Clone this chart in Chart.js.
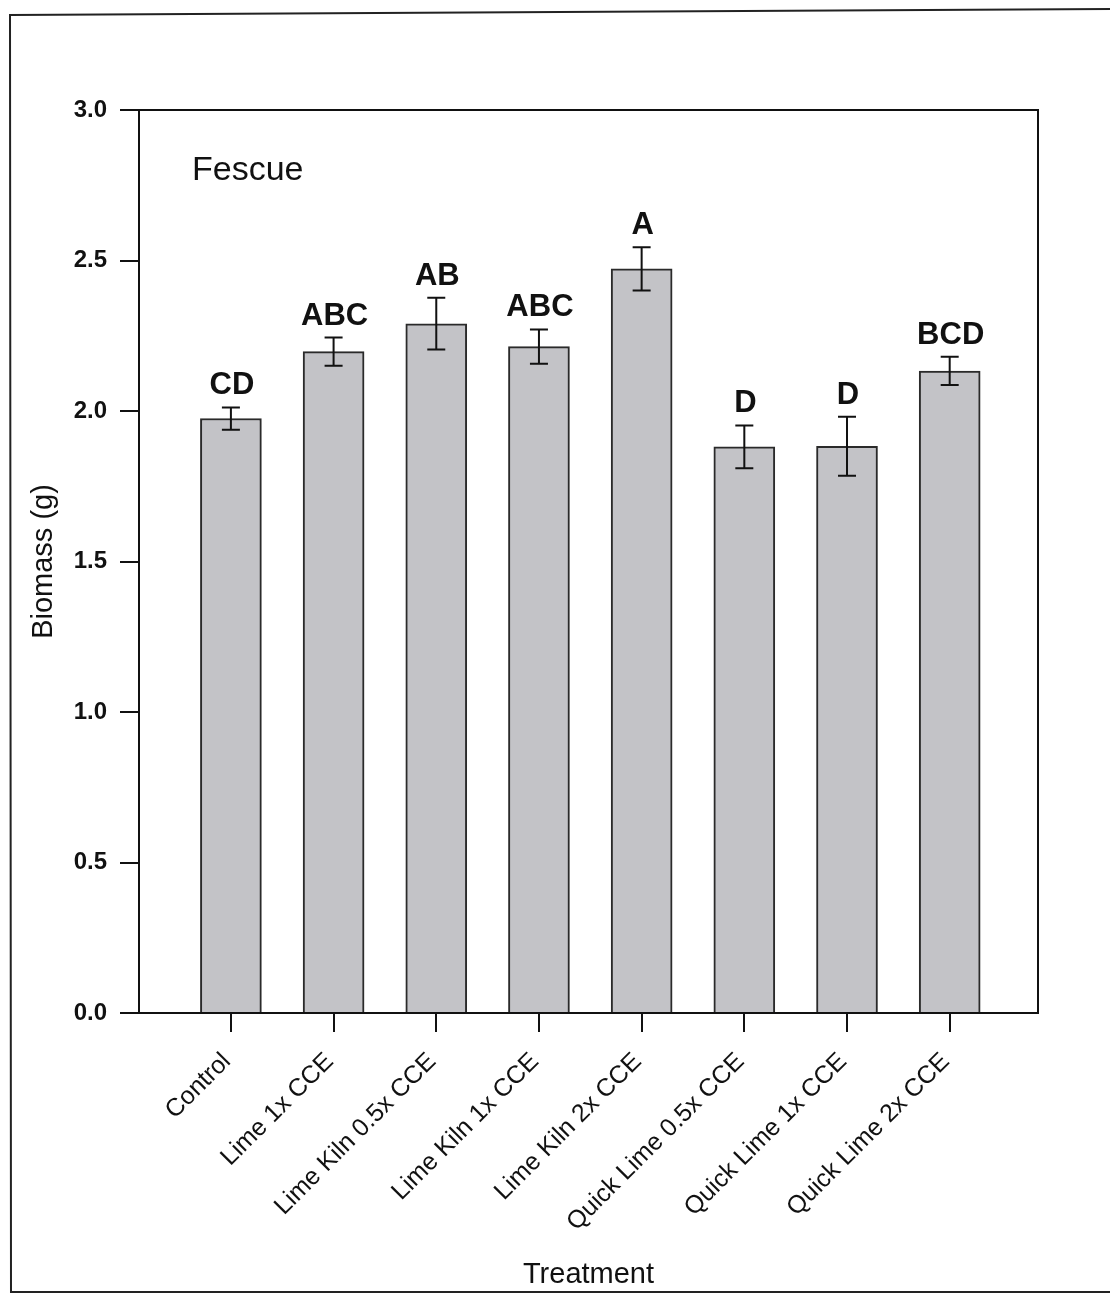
<!DOCTYPE html>
<html>
<head>
<meta charset="utf-8">
<script src="https://cdn.jsdelivr.net/npm/chart.js@4.4.1/dist/chart.umd.min.js"></script>
<style>
html,body{margin:0;padding:0;background:#fff;}
#wrap{position:relative;width:1110px;height:1294px;}
</style>
</head>
<body>
<div id="wrap"><canvas id="c" width="1110" height="1294"></canvas></div>
<script>
const categories = ['Control','Lime 1x CCE','Lime Kiln 0.5x CCE','Lime Kiln 1x CCE','Lime Kiln 2x CCE','Quick Lime 0.5x CCE','Quick Lime 1x CCE','Quick Lime 2x CCE'];
const biomass = [1.975, 2.197, 2.290, 2.214, 2.472, 1.881, 1.883, 2.133];
const stdErr = [0.037, 0.047, 0.086, 0.057, 0.072, 0.071, 0.098, 0.047];
const groupLetters = ['CD','ABC','AB','ABC','A','D','D','BCD'];
const yTicks = [0, 0.5, 1.0, 1.5, 2.0, 2.5, 3.0];
const panelLabel = 'Fescue';
const xTitle = 'Treatment';
const yTitle = 'Biomass (g)';

const FONT = "'Liberation Sans', Arial, Helvetica, sans-serif";
const INK = '#111';

const decorPlugin = {
  id: 'decor',
  afterDatasetsDraw(chart) {
    const ctx = chart.ctx;
    const xs = chart.scales.x, ys = chart.scales.y;
    const a = chart.chartArea;
    ctx.save();
    // error bars
    ctx.strokeStyle = INK;
    ctx.lineWidth = 2;
    biomass.forEach((v, i) => {
      const x = xs.getPixelForValue(i);
      const yt = ys.getPixelForValue(v + stdErr[i]);
      const yb = ys.getPixelForValue(v - stdErr[i]);
      ctx.beginPath();
      ctx.moveTo(x, yt); ctx.lineTo(x, yb);
      ctx.moveTo(x - 9, yt); ctx.lineTo(x + 9, yt);
      ctx.moveTo(x - 9, yb); ctx.lineTo(x + 9, yb);
      ctx.stroke();
    });
    // letters
    ctx.fillStyle = INK;
    ctx.font = 'bold 31px ' + FONT;
    ctx.textAlign = 'center';
    ctx.textBaseline = 'alphabetic';
    groupLetters.forEach((t, i) => {
      const x = xs.getPixelForValue(i);
      const yt = ys.getPixelForValue(biomass[i] + stdErr[i]);
      ctx.fillText(t, x + 1, yt - 13);
    });
    // plot box top & right
    ctx.lineWidth = 2;
    ctx.strokeStyle = INK;
    ctx.beginPath();
    ctx.moveTo(a.left, a.top); ctx.lineTo(a.right, a.top); ctx.lineTo(a.right, a.bottom);
    ctx.stroke();
    // panel label
    ctx.font = '34px ' + FONT;
    ctx.textAlign = 'left';
    ctx.fillText(panelLabel, 192, 180);
    // axis titles
    ctx.font = '29px ' + FONT;
    ctx.textAlign = 'center';
    ctx.fillText(xTitle, (a.left + a.right) / 2, 1283);
    ctx.save();
    ctx.translate(52, (a.top + a.bottom) / 2);
    ctx.rotate(-Math.PI / 2);
    ctx.fillText(yTitle, 0, 0);
    ctx.restore();
    // outer frame
    ctx.lineWidth = 2;
    ctx.strokeStyle = '#222';
    ctx.beginPath();
    ctx.moveTo(1112, 9); ctx.lineTo(10, 15); ctx.lineTo(11, 1292); ctx.lineTo(1112, 1292);
    ctx.stroke();
    ctx.restore();
  }
};

new Chart(document.getElementById('c'), {
  type: 'bar',
  data: {
    datasets: [{
      data: biomass.map((v, i) => ({ x: i, y: v })),
      backgroundColor: '#c3c3c7',
      borderColor: '#2a2a2a',
      borderWidth: 2,
      barThickness: 61
    }]
  },
  options: {
    responsive: false,
    animation: false,
    devicePixelRatio: 1,
    layout: { padding: { top: 110, right: 72, left: 0, bottom: 0 } },
    plugins: { legend: { display: false }, tooltip: { enabled: false } },
    scales: {
      x: {
        type: 'linear',
        offset: false,
        min: -0.895,
        max: 7.86,
        afterBuildTicks: s => { s.ticks = categories.map((_, i) => ({ value: i })); },
        afterFit: s => { s.height = 281; },
        ticks: {
          autoSkip: false,
          minRotation: 45,
          maxRotation: 45,
          padding: 15,
          labelOffset: -4,
          color: INK,
          font: { family: FONT, size: 25 },
          callback: v => categories[v] !== undefined ? categories[v] : ''
        },
        grid: { offset: false, drawOnChartArea: false, drawTicks: true, tickLength: 19, color: INK, lineWidth: 2 },
        border: { display: true, color: INK, width: 2 }
      },
      y: {
        min: 0,
        max: 3,
        afterBuildTicks: s => { s.ticks = yTicks.map(v => ({ value: v })); },
        afterFit: s => { s.width = 139; },
        ticks: {
          padding: 13,
          color: INK,
          font: { family: FONT, size: 24, weight: 'bold' },
          callback: v => Number(v).toFixed(1)
        },
        grid: { drawOnChartArea: false, drawTicks: true, tickLength: 19, color: INK, lineWidth: 2 },
        border: { display: true, color: INK, width: 2 }
      }
    }
  },
  plugins: [decorPlugin]
});
</script>
</body>
</html>
